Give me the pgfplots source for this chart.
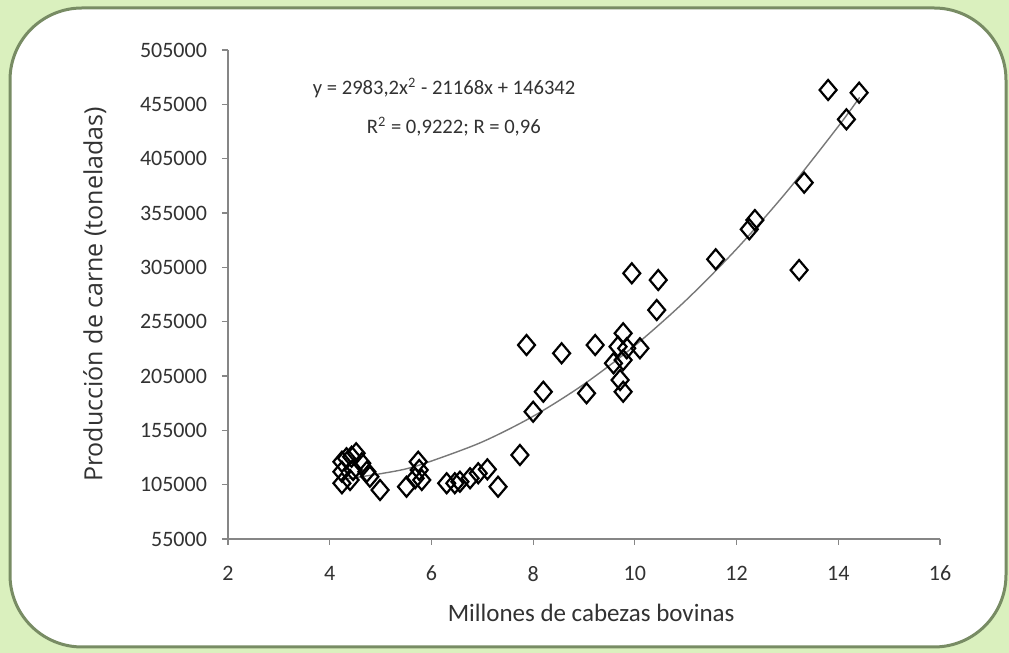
\documentclass[border=0pt]{standalone}
\usepackage{fontspec}
\setmainfont{Carlito}
\newfontfamily\opensans{Open Sans}
\usepackage{pgfplots}
\pgfplotsset{compat=1.18}
\definecolor{bggreen}{RGB}{218,240,190}
\definecolor{framec}{RGB}{120,140,100}
\definecolor{axgray}{RGB}{134,134,134}
\definecolor{txt}{RGB}{50,50,50}
\definecolor{trend}{RGB}{120,120,120}
\pgfplotstableread{
x y
4.24 126100
4.33 129300
4.43 130700
4.52 133900
4.24 116900
4.24 106300
4.46 118500
4.63 124700
4.73 116900
4.79 112300
4.99 100100
5.51 103100
5.74 126100
5.76 118500
5.81 109300
4.40 109300
5.68 110900
6.30 106300
6.46 106300
6.56 107700
6.76 110900
6.92 115500
7.10 119100
7.31 103100
7.74 132300
7.87 233500
8.56 225900
9.22 233500
8.20 190500
8.00 172100
9.05 189100
9.77 244300
9.67 232000
9.84 230500
10.10 230500
9.58 216700
9.77 219700
9.71 201300
9.77 190500
9.94 299500
10.46 293300
10.43 265700
13.80 468200
14.41 465700
14.16 441200
13.33 382900
12.36 348500
12.25 340000
11.59 312400
13.23 302500
}\datatable
\pgfplotstableread{
x y
4.24 110222
4.5 111496
5 115082
5.5 119510
6 126729
7 144343
8 167923
9 197469
10 232982
11 274461
12 321907
13 375319
14 434697
14.42 461424
}\trendtable
\begin{document}
\begin{tikzpicture}[x=1pt,y=1pt]
\useasboundingbox (0,0) rectangle (504.5,326.5);
\fill[bggreen] (0,0) rectangle (504.5,326.5);
\filldraw[fill=white, draw=framec, line width=1.5pt, rounded corners=36pt] (5,3) rectangle (503,322.5);
\begin{axis}[
  at={(114pt,57pt)}, anchor=south west,
  scale only axis, width=356pt, height=244.5pt,
  xmin=2, xmax=16, ymin=55000, ymax=505000,
  xtick={2,4,6,8,10,12,14,16},
  ytick={55000,105000,155000,205000,255000,305000,355000,405000,455000,505000},
  axis x line*=bottom, axis y line*=left,
  axis line style={axgray, line width=0.6pt, -},
  tick style={axgray, line width=0.6pt},
  tick align=outside, major tick length=3pt,
  scaled y ticks=false,
  ticklabel style={font=\fontsize{11}{13}\selectfont, text=txt},
  yticklabel style={xshift=-4pt, /pgf/number format/.cd, fixed, 1000 sep={}, assume math mode=true},
  xticklabel style={yshift=-7pt, /pgf/number format/assume math mode=true},
  xlabel={Millones de cabezas bovinas},
  ylabel={Producción de carne (toneladas)},
  every axis x label/.style={at={(axis description cs:0.51,-0.151)}, anchor=center, font=\fontsize{12.5}{14}\selectfont, text=txt},
  every axis y label/.style={at={(axis description cs:-0.187,0.5)}, anchor=center, rotate=90, font=\opensans\fontsize{12.5}{14}\selectfont, text=txt},
  clip=false,
]
\addplot[trend, line width=0.7pt, smooth] table[x=x,y=y] {\trendtable};
\addplot[only marks, mark=diamond, mark size=5pt, mark options={xscale=1.13, draw=black, fill=none, line width=1.1pt}] table[x=x,y=y] {\datatable};
\node[text=txt, font=\fontsize{10.3}{12}\selectfont] at (axis cs:6.25,470000) {y = 2983,2x\textsuperscript{2} - 21168x + 146342};
\node[text=txt, font=\fontsize{10.3}{12}\selectfont] at (axis cs:6.44,434500) {R\textsuperscript{2} = 0,9222; R = 0,96};
\end{axis}
\end{tikzpicture}
\end{document}
